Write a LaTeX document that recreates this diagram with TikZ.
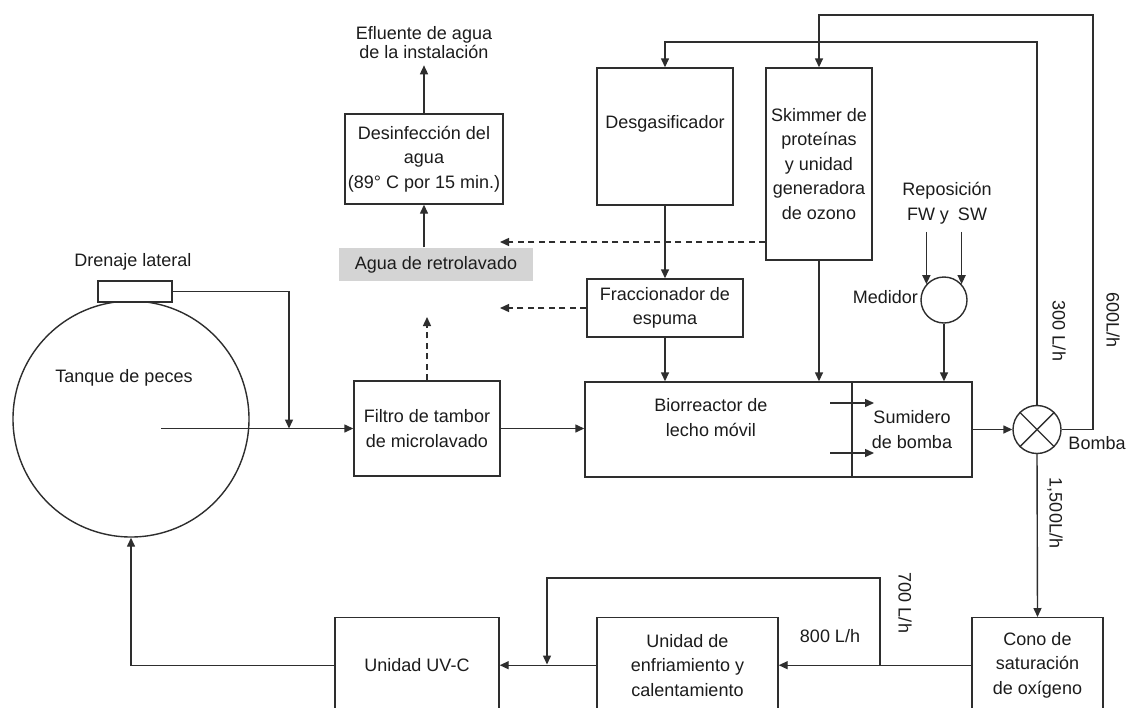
\documentclass[tikz,border=0pt]{standalone}
\usepackage{fontspec}
\setmainfont{Liberation Sans}
\usetikzlibrary{arrows.meta,calc}
\definecolor{ink}{HTML}{1C1C1C}
\definecolor{wire}{HTML}{2E2E2E}
\definecolor{wash}{HTML}{D4D4D4}
\newcommand{\lbl}{\fontsize{18}{24.5}\selectfont}
\newcommand{\tight}{\fontsize{18}{19}\selectfont}
\tikzset{
  box/.style={draw=wire,line width=1.4pt,inner sep=0,align=center,text=ink},
  flow/.style={draw=wire,line width=1.4pt,-{Triangle[length=9pt,width=8pt]}},
  back/.style={flow,dash pattern=on 6pt off 4.5pt},
  plain/.style={draw=wire,line width=1.4pt},
  tag/.style={inner sep=0,align=center,text=ink},
  rate/.style={tag,rotate=-90}
}
\begin{document}
\begin{tikzpicture}[x=1pt,y=-1pt,font=\lbl]
\useasboundingbox (0,0) rectangle (1129,707);
\clip (0,0) rectangle (1129,707);
\fill[white] (0,0) rectangle (1129,707);

\node[box,circle,minimum size=236pt] (tank) at (131,419) {};
\node[tag] (tanklbl) at (124,378) {Tanque de peces};
\node[box,fill=white,minimum width=74pt,minimum height=21pt] (drain) at (135,291.5) {};
\node[tag] (drainlbl) at (133,262) {Drenaje lateral};

\node[box,minimum width=146pt,minimum height=95pt] (filter) at (427,428.5) {Filtro de tambor\\de microlavado};
\node[box,draw=none,fill=wash,minimum width=194pt,minimum height=33pt] (wash) at (436,264.5) {Agua de retrolavado};
\node[box,minimum width=158pt,minimum height=90pt] (disinf) at (424,159) {Desinfección del\\agua\\(89° C por 15 min.)};
\node[tag,font=\tight] (effl) at (424,43) {Efluente de agua\\de la instalación};

\node[box,minimum width=136pt,minimum height=137pt] (degas) at (665,136.5) {};
\node[tag] (degaslbl) at (665,124) {Desgasificador};
\node[box,minimum width=106pt,minimum height=192pt] (skim) at (819,164) {Skimmer de\\proteínas\\y unidad\\generadora\\de ozono};
\node[box,minimum width=156pt,minimum height=58pt] (froth) at (665,308) {Fraccionador de\\espuma};

\node[box,minimum width=267pt,minimum height=95pt] (mbbr) at (718.5,429.5) {};
\node[tag] (mbbrlbl) at (711,417.5) {Biorreactor de\\lecho móvil};
\node[box,minimum width=120pt,minimum height=95pt] (sump) at (912,429.5) {Sumidero\\de bomba};

\node[box,circle,minimum size=48pt] (pump) at (1037,429.5) {};
\draw[plain] (pump.45) -- (pump.225) (pump.135) -- (pump.315);
\node[tag] (pumplbl) at (1097,443) {Bomba};
\node[box,circle,minimum size=46pt] (meter) at (944,300) {};
\node[tag,anchor=east] (meterlbl) at (918,297) {Medidor};
\node[tag] (makeup) at (947,203) {Reposición\\FW y\enspace SW};

\node[box,anchor=north,minimum width=131pt,minimum height=95pt] (cone) at (1037.5,617) {Cono de\\saturación\\de oxígeno};
\node[box,anchor=north,minimum width=181pt,minimum height=95pt] (chill) at (687.5,617) {Unidad de\\enfriamiento y\\calentamiento};
\node[box,anchor=north,minimum width=164pt,minimum height=95pt] (uvc) at (417,617) {Unidad UV-C};

\coordinate (tin) at (161,428.5);
\coordinate (drop) at (289,428.5);
\coordinate (bwash) at (427,317);
\coordinate (skimtip) at (500,242);
\coordinate (frothtip) at (500,308);
\coordinate (ina) at (830,403);
\coordinate (outa) at (874,403);
\coordinate (inb) at (830,453);
\coordinate (outb) at (874,453);
\coordinate (hia) at (1093,15);
\coordinate (hib) at (1037,42);
\coordinate (split) at (880,664.5);
\coordinate (loop) at (547,578);
\coordinate (merge) at (547,664.5);

\draw[flow] (drain.east) -| (drop);
\draw[flow] (tin) -- (filter.west);
\draw[flow] (filter.east) -- (filter.east -| mbbr.west);
\draw[back] (filter.north) -- (bwash);
\draw[flow] (disinf.south |- wash.north) -- (disinf.south);
\draw[flow] (disinf.north) -- ([yshift=-6pt]effl.south);
\draw[back] (skim.west |- skimtip) -- (skimtip);
\draw[back] (froth.west) -- (frothtip);
\draw[flow] (degas.south) -- (froth.north);
\draw[flow] (froth.south) -- (froth.south |- mbbr.north);
\draw[flow] (skim.south) -- (skim.south |- mbbr.north);
\draw[flow] ($(makeup.south -| meter.138)+(0,8)$) -- (meter.138);
\draw[flow] ($(makeup.south -| meter.42)+(0,8)$) -- (meter.42);
\draw[flow] (meter.south) -- (meter.south |- sump.north);
\draw[flow] (ina) -- (outa);
\draw[flow] (inb) -- (outb);
\draw[flow] (sump.east) -- (pump.west);
\draw[flow] (pump.north) -- (hib) -| (degas.north);
\draw[flow] (pump.east) -| (hia) -| (skim.north);
\draw[flow] (pump.south) -- (cone.north);
\draw[flow] (cone.west) -- (chill.east);
\draw[flow] (split) |- (loop) -- (merge);
\draw[flow] (chill.west) -- (uvc.east);
\draw[flow] (uvc.west) -| (tank.south);

\node[rate] (r300) at (1059,331) {300 L/h};
\node[rate] (r600) at (1113,320) {600L/h};
\node[rate] (r1500) at (1055,513) {1,500L/h};
\node[tag] (r800) at (830,636) {800 L/h};
\node[rate] (r700) at (905,603) {700 L/h};
\end{tikzpicture}
\end{document}
